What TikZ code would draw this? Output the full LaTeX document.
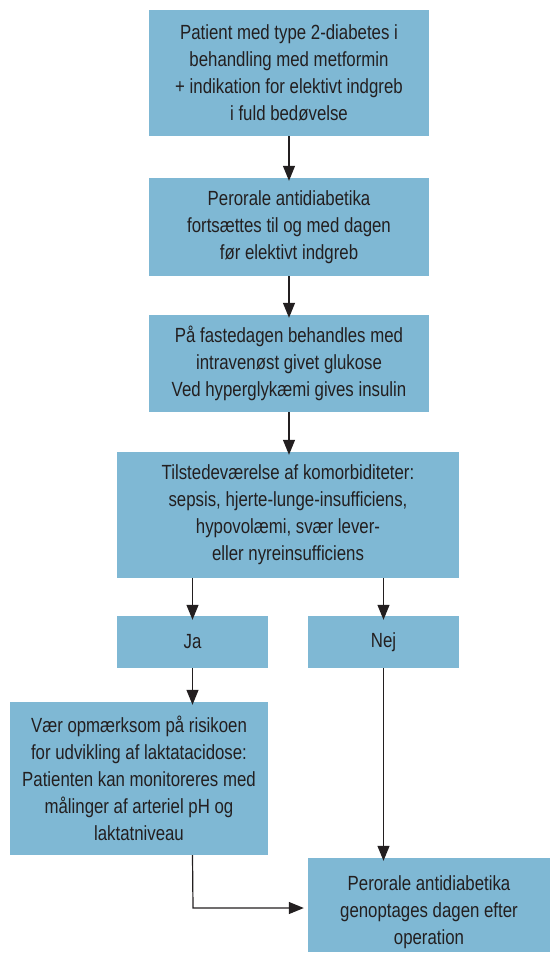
\documentclass[tikz,border=0pt]{standalone}
\usepackage{fontspec}
\setmainfont[FakeStretch=0.82]{Liberation Sans}
\usetikzlibrary{arrows.meta}
\definecolor{boxblue}{HTML}{7FB8D4}
\definecolor{ink}{HTML}{231F20}
\tikzset{
  boxtext/.style={align=center, inner sep=0pt, text=ink, font=\fontsize{20.5}{27}\selectfont},
  box/.style={fill=boxblue, draw=none, boxtext},
  conn/.style={draw=ink, line width=1.2pt, -{Triangle[width=12pt,length=15pt]}},
}
\begin{document}
\begin{tikzpicture}[x=1pt,y=-1pt]
\useasboundingbox (0,0) rectangle (551,953);
\node[box, minimum width=280pt, minimum height=126pt] (b1) at (289,73) {Patient med type 2-diabetes i\\behandling med metformin\\+ indikation for elektivt indgreb\\i fuld bedøvelse};
\node[box, minimum width=280pt, minimum height=98pt] (b2) at (289,227) {Perorale antidiabetika\\fortsættes til og med dagen\\før elektivt indgreb};
\node[box, minimum width=280pt, minimum height=97pt] (b3) at (289,363.5) {På fastedagen behandles med\\intravenøst givet glukose\\Ved hyperglykæmi gives insulin};
\node[box, minimum width=342pt, minimum height=126pt] (b4) at (288,515) {Tilstedeværelse af komorbiditeter:\\sepsis, hjerte-lunge-insufficiens,\\hypovolæmi, svær lever-\\eller nyreinsufficiens};
\node[box, minimum width=151pt, minimum height=52pt] (ja) at (192.5,642) {Ja};
\node[box, minimum width=151pt, minimum height=52pt] (nej) at (383.5,642) {Nej};
\node[box, minimum width=258pt, minimum height=153pt] (vaer) at (139,778.5) {Vær opmærksom på risikoen\\for udvikling af laktatacidose:\\Patienten kan monitoreres med\\målinger af arteriel pH og\\laktatniveau};
\node[box, minimum width=242pt, minimum height=94pt,
  label={[boxtext, yshift=-7pt]center:Perorale antidiabetika\\genoptages dagen efter\\operation}] (b6) at (429,905) {};
\coordinate (corner) at (193,908);
\draw[conn] (b1.south) -- ([yshift=-3pt]b2.north);
\draw[conn] (b2.south) -- ([yshift=-3pt]b3.north);
\draw[conn] (b3.south) -- ([yshift=-3pt]b4.north -| b3.south);
\draw[conn] (b4.south -| ja) -- ([yshift=-4pt]ja.north);
\draw[conn] (b4.south -| nej) -- ([yshift=-4pt]nej.north);
\draw[conn] (ja.south) -- ([yshift=-3pt]vaer.north -| ja);
\draw[conn] (nej.south) -- ([yshift=-3pt]b6.north -| nej);
\draw[conn] (vaer.south -| ja) -- (corner) -- ([xshift=-4pt]b6.west |- corner);
\end{tikzpicture}
\end{document}
